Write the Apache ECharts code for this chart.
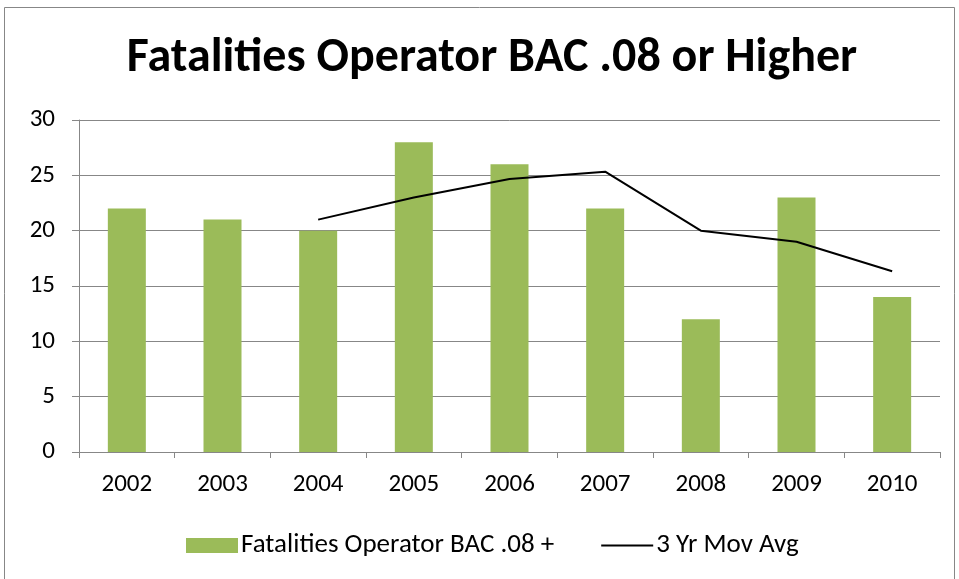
<!DOCTYPE html>
<html>
<head>
<meta charset="utf-8">
<script src="https://cdn.jsdelivr.net/npm/echarts@6/dist/echarts.min.js"></script>
<style>
  html, body { margin: 0; padding: 0; background: #fff; }
  #chart { width: 959px; height: 579px; }
</style>
</head>
<body>
<div id="chart"></div>
<script>
const years = ['2002', '2003', '2004', '2005', '2006', '2007', '2008', '2009', '2010'];
const fatalities = [22, 21, 20, 28, 26, 22, 12, 23, 14];
const movAvg = [null, null, 21, 23, 24.67, 25.33, 20, 19, 16.33];
const yTicks = [0, 5, 10, 15, 20, 25, 30];

const font = 'Carlito, "Open Sans", sans-serif';
const gray = '#878787';

const chart = echarts.init(document.getElementById('chart'));

chart.setOption({
  animation: false,
  textStyle: { fontFamily: font },
  title: {
    text: 'Fatalities Operator BAC .08 or Higher',
    left: 487,
    textAlign: 'center',
    top: 30,
    textStyle: { fontFamily: font, fontSize: 48, fontWeight: 'bold', color: '#000' }
  },
  graphic: [{
    type: 'rect',
    shape: { x: 4.5, y: 7.5, width: 950, height: 590 },
    style: { fill: 'none', stroke: gray, lineWidth: 1 },
    silent: true
  }],
  grid: { left: 79, right: 19, top: 120, bottom: 127 },
  legend: {
    top: 527,
    left: 181,
    itemGap: 47,
    itemWidth: 52,
    itemHeight: 15,
    textStyle: { fontFamily: font, fontSize: 27, color: '#000', padding: [0, 0, 0, -2] },
    data: [
      { name: 'Fatalities Operator BAC .08 +', icon: 'rect' },
      { name: '3 Yr Mov Avg', icon: 'path://M0,0 L52,0 L52,2 L0,2 Z' }
    ]
  },
  xAxis: {
    type: 'category',
    data: years,
    axisLine: { lineStyle: { color: gray, width: 1 } },
    axisTick: { show: true, length: 6, lineStyle: { color: gray } },
    axisLabel: { color: '#000', fontSize: 25, margin: 20, fontFamily: font }
  },
  yAxis: {
    type: 'value',
    min: yTicks[0],
    max: yTicks[yTicks.length - 1],
    interval: 5,
    axisLine: { show: true, lineStyle: { color: gray, width: 1 } },
    axisTick: { show: true, length: 7, lineStyle: { color: gray } },
    axisLabel: { color: '#000', fontSize: 25, margin: 24, fontFamily: font },
    splitLine: { lineStyle: { color: gray, width: 1 } }
  },
  series: [
    {
      name: 'Fatalities Operator BAC .08 +',
      type: 'bar',
      data: fatalities,
      barWidth: 38,
      itemStyle: { color: '#9BBB59' }
    },
    {
      name: '3 Yr Mov Avg',
      type: 'line',
      data: movAvg,
      symbol: 'none',
      connectNulls: false,
      lineStyle: { color: '#000', width: 2 },
      itemStyle: { color: '#000' }
    }
  ]
});
</script>
</body>
</html>
